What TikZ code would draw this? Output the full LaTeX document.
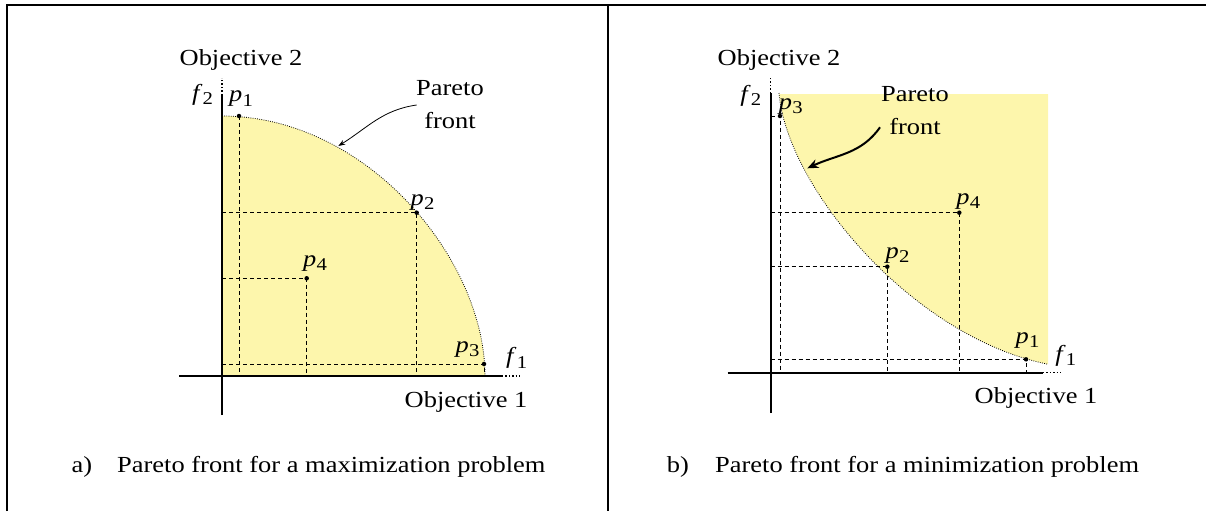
\documentclass[tikz,border=0pt]{standalone}
\usepackage{fontspec}
\setmainfont[FakeStretch=1.15]{Liberation Serif}
\usetikzlibrary{arrows.meta}
\definecolor{paretofill}{RGB}{253,246,172}
\newcommand\ptlab[2]{\textit{#1}\kern0.01em\raisebox{-0.4ex}{\fontsize{18}{18}\selectfont #2}}
\begin{document}
\begin{tikzpicture}[x=1pt,y=1pt, font=\fontsize{23}{33}\selectfont,
  axis/.style={line width=1.6pt},
  axisext/.style={line width=1.4pt, dash pattern=on 1.4pt off 2pt},
  guide/.style={line width=0.8pt, dash pattern=on 4pt off 3pt},
  front/.style={line width=0.8pt, dash pattern=on 0.8pt off 1.4pt},
  dot/.style={circle, fill=black, inner sep=0pt, minimum size=4.5pt},
  lab/.style={inner sep=0pt},
  frame/.style={line width=2pt}]
\useasboundingbox (0,0) rectangle (1206,-511);

% frame
\draw[frame] (6.5,-511) -- (6.5,-5.5) -- (1206,-5.5);
\draw[frame] (608,-5.5) -- (608,-511);

% ================= left panel =================
\coordinate (LO) at (222,-376);
\fill[paretofill] (222,-376) -- (222,-116) .. controls (366.7,-116) and (485,-259) .. (485,-376) -- cycle;
\draw[front] (222,-116) .. controls (366.7,-116) and (485,-259) .. (485,-376);

\coordinate (Lp1) at (239,-116);
\coordinate (Lp2) at (416.7,-212.7);
\coordinate (Lp3) at (484,-364);
\coordinate (Lp4) at (306.7,-278.3);

% guides
\draw[guide] (Lp1) -- (Lp1 |- LO);
\draw[guide] (Lp2 -| LO) -- (Lp2) -- (Lp2 |- LO);
\draw[guide] (Lp4 -| LO) -- (Lp4) -- (Lp4 |- LO);
\draw[guide] (Lp3 -| LO) -- (Lp3) -- (Lp3 |- LO);

% axes
\coordinate (LxS) at (179,-376);
\coordinate (LxE) at (502,-376);
\coordinate (LxD) at (520,-376);
\coordinate (LyS) at (222,-415);
\coordinate (LyE) at (222,-95);
\coordinate (LyD) at (222,-78);
\draw[axis] (LxS) -- (LxE);
\draw[axisext] (LxE) -- (LxD);
\draw[axis] (LyS) -- (LyE);
\draw[axisext] (LyE) -- (LyD);

\foreach \p in {Lp1,Lp2,Lp3,Lp4} \node[dot] at (\p) {};

\node[lab] (Lo2) at (241,-60) {Objective 2};
\node[lab] (Lo1) at (466,-402) {Objective 1};
\node[lab] (Lf2) at (202.5,-95) {\ptlab{f}{2}};
\node[lab] (Lf1) at (516.7,-358.3) {\ptlab{f}{1}};
\node[lab] (Ll1) at (241,-99) {\ptlab{p}{1}};
\node[lab] (Ll2) at (422.5,-202.3) {\ptlab{p}{2}};
\node[lab] (Ll3) at (467.5,-349.2) {\ptlab{p}{3}};
\node[lab] (Ll4) at (315,-263.3) {\ptlab{p}{4}};

\node[lab,align=center] (LPf) at (450,-105) {Pareto\\front};
\coordinate (LtipS) at (416.7,-105);
\coordinate (Ltip) at (338.3,-146);
\draw[line width=0.8pt,-{Stealth[length=7pt,width=5pt]}] (LtipS) to[out=188,in=32] (Ltip);

\node[lab] (capA) at (82,-467) {a)};
\node[lab,anchor=west] (capAt) at (117,-467) {Pareto front for a maximization problem};

% ================= right panel =================
\coordinate (RO) at (770.7,-372.7);
\fill[paretofill] (779,-94) -- (1048,-94) -- (1048,-364) -- (1047,-364) .. controls (913,-336.9) and (787,-187.85) .. (779,-93) -- cycle;
\draw[front] (779,-93) .. controls (787,-187.85) and (913,-336.9) .. (1047,-364);

\coordinate (Rp3) at (780,-116);
\coordinate (Rp4) at (959.3,-212.7);
\coordinate (Rp2) at (887.3,-266.7);
\coordinate (Rp1) at (1026,-359.3);

\draw[guide] (Rp3 -| RO) -- (Rp3) -- (Rp3 |- RO);
\draw[guide] (Rp4 -| RO) -- (Rp4) -- (Rp4 |- RO);
\draw[guide] (Rp2 -| RO) -- (Rp2) -- (Rp2 |- RO);
\draw[guide] (Rp1 -| RO) -- (Rp1) -- (Rp1 |- RO);

\coordinate (RxS) at (727.7,-372.7);
\coordinate (RxE) at (1043,-372.7);
\coordinate (RxD) at (1062,-372.7);
\coordinate (RyS) at (770.7,-413);
\coordinate (RyE) at (770.7,-93);
\coordinate (RyD) at (770.7,-78);
\draw[axis] (RxS) -- (RxE);
\draw[axisext] (RxE) -- (RxD);
\draw[axis] (RyS) -- (RyE);
\draw[axisext] (RyE) -- (RyD);

\foreach \p in {Rp1,Rp2,Rp3,Rp4} \node[dot] at (\p) {};

\node[lab] (Ro2) at (779,-60) {Objective 2};
\node[lab] (Ro1) at (1036,-398) {Objective 1};
\node[lab] (Rf2) at (750.8,-95.8) {\ptlab{f}{2}};
\node[lab] (Rf1) at (1065.8,-355.8) {\ptlab{f}{1}};
\node[lab] (Rl3) at (790.8,-106.7) {\ptlab{p}{3}};
\node[lab] (Rl4) at (968.3,-201.7) {\ptlab{p}{4}};
\node[lab] (Rl2) at (897.5,-255.8) {\ptlab{p}{2}};
\node[lab] (Rl1) at (1027.5,-340.8) {\ptlab{p}{1}};

\node[lab,align=center] (RPf) at (915,-111) {Pareto\\front};
\coordinate (RtipS) at (880,-127.3);
\coordinate (Rtip) at (807.3,-168.3);
\draw[line width=2pt,-{Stealth[length=11pt,width=9pt]}] (RtipS) to[out=235,in=25] (Rtip);

\node[lab] (capB) at (678,-467) {b)};
\node[lab,anchor=west] (capBt) at (715,-467) {Pareto front for a minimization problem};
\end{tikzpicture}
\end{document}
